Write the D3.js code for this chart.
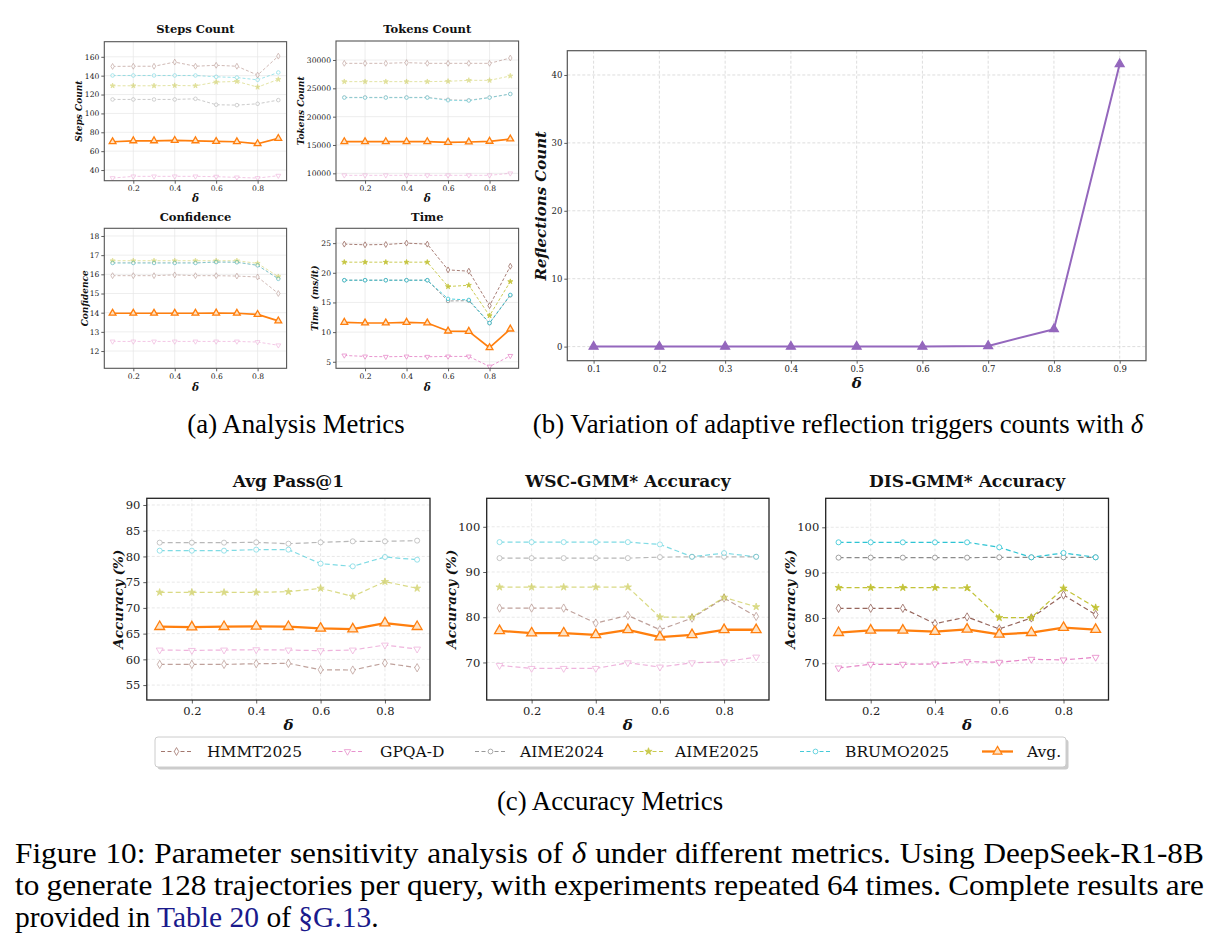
<!DOCTYPE html>
<html><head><meta charset="utf-8">
<script src="https://cdn.jsdelivr.net/npm/d3@7"></script>
<style>body{margin:0;background:#fff} svg{display:block}</style>
</head><body><svg id="c" width="1219" height="951"></svg>
<script>
// ---------------- data ----------------
const deltas = [0.1, 0.2, 0.3, 0.4, 0.5, 0.6, 0.7, 0.8, 0.9];
const seriesNames = ["HMMT2025", "GPQA-D", "AIME2024", "AIME2025", "BRUMO2025", "Avg."];
const seriesColors = ["#8c564b", "#e377c2", "#7f7f7f", "#bcbd22", "#17becf", "#ff7f0e"];

// order: HMMT2025, GPQA-D, AIME2024, AIME2025, BRUMO2025, Avg.
const stepsCount = [
  [149.8, 150, 150, 154.4, 150, 151, 150, 140.6, 160.7],
  [31.5, 33.3, 33.3, 33.3, 33.3, 33, 32.2, 31.5, 34],
  [114.8, 114.8, 114.8, 114.8, 115.5, 109.2, 108.8, 110.2, 114.1],
  [129.3, 129.3, 129.3, 129.6, 129.3, 133.2, 133.9, 127.9, 136],
  [140.2, 140.2, 140.2, 140.2, 140.2, 138.8, 138, 135.6, 143.4],
  [70, 71, 71, 71.4, 71, 70.3, 70, 67.9, 73.5]
];
const tokensCount = [
  [29410, 29410, 29410, 29530, 29410, 29410, 29410, 29410, 30350],
  [9650, 9650, 9650, 9650, 9650, 9650, 9650, 9650, 10000],
  [23400, 23400, 23400, 23400, 23400, 23000, 22900, 23400, 24000],
  [26180, 26180, 26180, 26180, 26180, 26240, 26410, 26410, 27180],
  [23350, 23350, 23350, 23350, 23350, 22880, 22820, 23350, 24000],
  [15590, 15590, 15590, 15590, 15590, 15470, 15530, 15650, 16060]
];
const confidence = [
  [15.93, 15.93, 15.93, 15.97, 15.93, 15.93, 15.91, 15.86, 15.0],
  [12.5, 12.5, 12.5, 12.5, 12.5, 12.5, 12.5, 12.47, 12.3],
  [16.6, 16.6, 16.6, 16.6, 16.6, 16.64, 16.63, 16.47, 15.78],
  [16.71, 16.71, 16.71, 16.71, 16.71, 16.71, 16.71, 16.57, 15.88],
  [16.59, 16.59, 16.59, 16.59, 16.59, 16.64, 16.63, 16.47, 15.76],
  [13.97, 13.97, 13.97, 13.97, 13.97, 13.98, 13.97, 13.91, 13.57]
];
const timeMs = [
  [24.83, 24.72, 24.77, 25.0, 24.83, 20.49, 20.27, 14.46, 21.1],
  [6.07, 5.9, 5.85, 5.9, 5.85, 5.9, 5.9, 4.2, 6.0],
  [18.75, 18.75, 18.75, 18.75, 18.75, 15.25, 15.3, 11.5, 16.2],
  [21.79, 21.79, 21.79, 21.79, 21.79, 17.68, 17.9, 12.77, 18.52],
  [18.75, 18.75, 18.75, 18.75, 18.75, 15.6, 15.42, 11.54, 16.27],
  [11.65, 11.54, 11.54, 11.65, 11.54, 10.18, 10.13, 7.37, 10.52]
];
const reflectionsCount = [0, 0, 0, 0, 0, 0, 0.1, 2.57, 41.6];
const avgPass1 = [
  [59.02, 59.02, 59.02, 59.15, 59.22, 57.98, 57.92, 59.28, 58.37],
  [61.81, 61.74, 61.81, 61.87, 61.81, 61.68, 61.81, 62.78, 62.0],
  [82.68, 82.68, 82.68, 82.74, 82.48, 82.74, 82.94, 82.94, 83.07],
  [73.02, 73.02, 73.02, 73.02, 73.15, 73.8, 72.24, 75.1, 73.8],
  [81.12, 81.12, 81.12, 81.32, 81.32, 78.6, 78.08, 79.89, 79.37],
  [66.35, 66.28, 66.35, 66.41, 66.35, 66.02, 65.89, 67.06, 66.35]
];
const wscAccuracy = [
  [82.02, 82.02, 82.02, 78.7, 80.4, 77.23, 79.81, 84.23, 80.18],
  [69.34, 68.68, 68.68, 68.68, 69.93, 68.98, 69.93, 70.15, 71.19],
  [93.07, 93.07, 93.07, 93.07, 93.07, 93.29, 93.37, 93.37, 93.37],
  [86.66, 86.66, 86.66, 86.66, 86.66, 80.03, 80.03, 84.38, 82.31],
  [96.61, 96.61, 96.61, 96.61, 96.61, 96.1, 93.37, 94.18, 93.37],
  [77.0, 76.49, 76.49, 76.12, 77.23, 75.61, 76.12, 77.23, 77.23]
];
const disAccuracy = [
  [82.13, 82.13, 82.13, 78.75, 80.22, 77.57, 80.0, 85.07, 80.74],
  [68.97, 69.78, 69.78, 69.85, 70.37, 70.22, 70.88, 70.74, 71.32],
  [93.31, 93.31, 93.31, 93.31, 93.31, 93.38, 93.38, 93.38, 93.38],
  [86.69, 86.69, 86.69, 86.69, 86.62, 80.07, 80.07, 86.54, 82.28],
  [96.69, 96.69, 96.69, 96.69, 96.69, 95.59, 93.38, 94.34, 93.38],
  [76.76, 77.28, 77.28, 76.99, 77.5, 76.4, 76.76, 77.87, 77.43]
];
const xTicksShort = [0.2, 0.4, 0.6, 0.8];
const xTicksAll = [0.1, 0.2, 0.3, 0.4, 0.5, 0.6, 0.7, 0.8, 0.9];
const stepsTicks = [40, 60, 80, 100, 120, 140, 160];
const tokensTicks = [10000, 15000, 20000, 25000, 30000];
const confTicks = [12, 13, 14, 15, 16, 17, 18];
const timeTicks = [5, 10, 15, 20, 25];
const reflTicks = [0, 10, 20, 30, 40];
const avgTicks = [55, 60, 65, 70, 75, 80, 85, 90];
const gmmTicks = [70, 80, 90, 100];

// ---------------- drawing ----------------
const svg = d3.select("#c");
const SERIF = "'DejaVu Serif', serif";
const TIMES = "'Liberation Serif', 'Times New Roman', serif";

function symPath(i, size) {
  const types = [d3.symbolDiamond, d3.symbolTriangle, d3.symbolCircle, d3.symbolStar, d3.symbolCircle, d3.symbolTriangle];
  return d3.symbol().type(types[i]).size(size)();
}
function markerTransform(i, cx, cy) {
  return i === 1 ? `translate(${cx},${cy}) rotate(180)` : `translate(${cx},${cy})`;
}

function drawPanel(p) {
  const g = svg.append("g");
  const x = d3.scaleLinear().domain([0.06, 0.94]).range([p.x0, p.x1]);
  const y = d3.scaleLinear().domain(p.yDomain).range([p.y1, p.y0]);
  // grid
  g.append("g").selectAll("line").data(p.xTicks).join("line")
    .attr("x1", d => x(d)).attr("x2", d => x(d)).attr("y1", p.y0).attr("y2", p.y1)
    .attr("stroke", p.gridColor).attr("stroke-width", 0.7).attr("stroke-dasharray", p.gridDash);
  g.append("g").selectAll("line").data(p.yTicks).join("line")
    .attr("x1", p.x0).attr("x2", p.x1).attr("y1", d => y(d)).attr("y2", d => y(d))
    .attr("stroke", p.gridColor).attr("stroke-width", 0.7).attr("stroke-dasharray", p.gridDash);
  // axes
  const ax = g.append("g").attr("transform", `translate(0,${p.y1})`)
    .call(d3.axisBottom(x).tickValues(p.xTicks).tickFormat(d3.format(".1f")).tickSize(p.tickLen).tickPadding(p.tickPad));
  const ay = g.append("g").attr("transform", `translate(${p.x0},0)`)
    .call(d3.axisLeft(y).tickValues(p.yTicks).tickFormat(d3.format("d")).tickSize(p.tickLen).tickPadding(p.tickPad));
  [ax, ay].forEach(a => {
    a.select(".domain").remove();
    a.selectAll("line").attr("stroke", "#333").attr("stroke-width", 0.8);
    a.selectAll("text").attr("font-family", SERIF).attr("font-size", p.tickFont).attr("fill", "#222");
  });
  // series
  const line = d3.line().x((d, i) => x(deltas[i])).y(d => y(d));
  p.series.forEach((vals, si) => {
    const isAvg = p.single ? true : si === 5;
    const color = p.single ? p.color : seriesColors[si];
    const alpha = isAvg ? 1 : p.alpha;
    const sg = g.append("g").attr("opacity", alpha);
    sg.append("path").datum(vals).attr("d", line).attr("fill", "none")
      .attr("stroke", color).attr("stroke-width", isAvg ? p.avgWidth : p.lineWidth)
      .attr("stroke-dasharray", isAvg ? null : p.dash).attr("stroke-linejoin", "round");
    const symIndex = p.single ? 5 : si;
    sg.selectAll("path.m").data(vals).join("path").attr("class", "m")
      .attr("d", symPath(symIndex, isAvg ? p.avgMarker : (symIndex === 3 ? p.marker * 0.8 : p.marker)))
      .attr("transform", (d, i) => markerTransform(symIndex, x(deltas[i]), y(d)))
      .attr("fill", p.single ? color : (isAvg ? "#ffe3c4" : (symIndex === 3 ? color : "#fff")))
      .attr("stroke", color).attr("stroke-width", isAvg ? 1.3 : 0.8);
  });
  // frame
  g.append("rect").attr("x", p.x0).attr("y", p.y0).attr("width", p.x1 - p.x0).attr("height", p.y1 - p.y0)
    .attr("fill", "none").attr("stroke", p.frameColor).attr("stroke-width", p.frameWidth);
  // title
  if (p.title) g.append("text").attr("x", (p.x0 + p.x1) / 2).attr("y", p.titleY)
    .attr("text-anchor", "middle").attr("font-family", SERIF).attr("font-weight", "bold")
    .attr("font-size", p.titleFont).attr("fill", "#111").text(p.title);
  // y label
  g.append("text").attr("transform", `translate(${p.ylabelX},${(p.y0 + p.y1) / 2}) rotate(-90)`)
    .attr("text-anchor", "middle").attr("dominant-baseline", "central")
    .attr("font-family", SERIF).attr("font-weight", "bold").attr("font-style", "italic")
    .attr("font-size", p.labelFont).attr("fill", "#111").style("white-space", "pre").text(p.ylabel);
  // x label
  g.append("text").attr("x", (p.x0 + p.x1) / 2).attr("y", p.xlabelY)
    .attr("text-anchor", "middle").attr("dominant-baseline", "central")
    .attr("font-family", SERIF).attr("font-weight", "bold").attr("font-style", "italic")
    .attr("font-size", p.deltaFont).attr("fill", "#111").text("δ");
}

const smallBase = {
  xTicks: xTicksShort, tickLen: 3, tickPad: 2, tickFont: 7.6, titleFont: 11.5, labelFont: 9, deltaFont: 10.5,
  gridColor: "#e6e6e6", gridDash: null, lineWidth: 0.9, avgWidth: 1.7, dash: "3,2",
  marker: 10, avgMarker: 20, frameColor: "#555", frameWidth: 1.1
};
drawPanel(Object.assign({}, smallBase, {
  x0: 104.3, x1: 286.6, y0: 41.7, y1: 180.7, yDomain: [28.7, 176], yTicks: stepsTicks,
  series: stepsCount, alpha: 0.45, title: "Steps Count", titleY: 33, ylabel: "Steps Count", ylabelX: 79, xlabelY: 198
}));
drawPanel(Object.assign({}, smallBase, {
  x0: 336, x1: 518.6, y0: 41, y1: 180.7, yDomain: [8700, 33350], yTicks: tokensTicks,
  series: tokensCount, alpha: 0.45, title: "Tokens Count", titleY: 33, ylabel: "Tokens Count", ylabelX: 301, xlabelY: 198
}));
drawPanel(Object.assign({}, smallBase, {
  x0: 104.3, x1: 286.6, y0: 228.3, y1: 368.3, yDomain: [11.1, 18.4], yTicks: confTicks,
  series: confidence, alpha: 0.45, title: "Confidence", titleY: 220.5, ylabel: "Confidence", ylabelX: 85, xlabelY: 386.5
}));
drawPanel(Object.assign({}, smallBase, {
  x0: 336, x1: 518.6, y0: 228.3, y1: 368.3, yDomain: [3.9, 27.5], yTicks: timeTicks,
  series: timeMs, alpha: 0.85, title: "Time", titleY: 220.5, ylabel: "Time  (ms/it)", ylabelX: 315, xlabelY: 386.5
}));
// reflections
drawPanel({
  x0: 567.3, x1: 1146, y0: 50.7, y1: 360.7, yDomain: [-2.075, 43.575], yTicks: reflTicks, xTicks: xTicksAll,
  tickLen: 3, tickPad: 2, tickFont: 8.5, labelFont: 15, deltaFont: 15,
  gridColor: "#cfcfcf", gridDash: "3,2", lineWidth: 2, avgWidth: 2, dash: null,
  marker: 30, avgMarker: 34, frameColor: "#555", frameWidth: 1.2,
  series: [reflectionsCount], single: true, color: "#9467bd", alpha: 1,
  title: null, ylabel: "Reflections Count", ylabelX: 541, xlabelY: 383
});
const bigBase = {
  xTicks: xTicksShort, tickLen: 3.5, tickPad: 3, tickFont: 11.5, titleFont: 17, labelFont: 13.5, deltaFont: 15,
  gridColor: "#dedede", gridDash: "3,2", lineWidth: 1.2, avgWidth: 2.3, dash: "5,3",
  marker: 20, avgMarker: 42, frameColor: "#222", frameWidth: 1.3, titleY: 487
};
drawPanel(Object.assign({}, bigBase, {
  x0: 146.8, x1: 430, y0: 498.3, y1: 700, yDomain: [52.1, 91.3], yTicks: avgTicks,
  series: avgPass1, alpha: 0.55, title: "Avg Pass@1", ylabel: "Accuracy (%)", ylabelX: 118, xlabelY: 725
}));
drawPanel(Object.assign({}, bigBase, {
  x0: 486.7, x1: 769, y0: 498.3, y1: 700, yDomain: [61.7, 106.3], yTicks: gmmTicks,
  series: wscAccuracy, alpha: 0.55, title: "WSC-GMM* Accuracy", ylabel: "Accuracy (%)", ylabelX: 451, xlabelY: 725
}));
drawPanel(Object.assign({}, bigBase, {
  x0: 825.7, x1: 1108.5, y0: 498.3, y1: 700, yDomain: [61.9, 106.4], yTicks: gmmTicks,
  series: disAccuracy, alpha: 0.9, title: "DIS-GMM* Accuracy", ylabel: "Accuracy (%)", ylabelX: 790, xlabelY: 725
}));

// legend
(function legend() {
  const g = svg.append("g");
  const lx0 = 155, lx1 = 1066, ly0 = 737, ly1 = 767;
  g.append("rect").attr("x", lx0 + 2.5).attr("y", ly0 + 2.5).attr("width", lx1 - lx0).attr("height", ly1 - ly0)
    .attr("rx", 3).attr("fill", "#999").attr("opacity", 0.5);
  g.append("rect").attr("x", lx0).attr("y", ly0).attr("width", lx1 - lx0).attr("height", ly1 - ly0)
    .attr("rx", 3).attr("fill", "#fff").attr("stroke", "#cccccc").attr("stroke-width", 1);
  const handleX = [161, 332, 475, 633, 800, 982];
  const textX = [207, 380, 520, 675, 845, 1027];
  const cy = 751.5;
  seriesNames.forEach((name, i) => {
    const isAvg = i === 5;
    const hg = g.append("g").attr("opacity", isAvg ? 1 : 0.8);
    hg.append("line").attr("x1", handleX[i]).attr("x2", handleX[i] + 31).attr("y1", cy).attr("y2", cy)
      .attr("stroke", seriesColors[i]).attr("stroke-width", isAvg ? 2.3 : 1.2).attr("stroke-dasharray", isAvg ? null : "4,2.5");
    hg.append("path").attr("d", symPath(i, isAvg ? 34 : (i === 3 ? 16 : 18)))
      .attr("transform", markerTransform(i, handleX[i] + 15.5, cy))
      .attr("fill", isAvg ? "#ffe3c4" : (i === 3 ? seriesColors[i] : "#fff"))
      .attr("stroke", seriesColors[i]).attr("stroke-width", isAvg ? 1.2 : 0.8);
    g.append("text").attr("x", textX[i]).attr("y", cy).attr("dominant-baseline", "central")
      .attr("font-family", SERIF).attr("font-size", 15.5).attr("fill", "#111").text(name);
  });
})();

// sub captions
function capText(xc, yb, parts, size) {
  const t = svg.append("text").attr("x", xc).attr("y", yb).attr("text-anchor", "middle")
    .attr("font-family", TIMES).attr("font-size", size).attr("fill", "#000");
  parts.forEach(pp => t.append("tspan").attr("font-style", pp.it ? "italic" : null).attr("fill", pp.c || null).text(pp.t));
  return t;
}
capText(296, 433, [{ t: "(a) Analysis Metrics" }], 26.8);
capText(838, 433, [{ t: "(b) Variation of adaptive reflection triggers counts with " }, { t: "δ", it: true }], 26.8);
capText(610, 810, [{ t: "(c) Accuracy Metrics" }], 26.8);

// figure caption (justified lines)
const captionLines = [
  [["Figure"], ["10:"], ["Parameter"], ["sensitivity"], ["analysis"], ["of"], ["δ", "it"], ["under"], ["different"], ["metrics."], ["Using"], ["DeepSeek-R1-8B"]],
  [["to"], ["generate"], ["128"], ["trajectories"], ["per"], ["query,"], ["with"], ["experiments"], ["repeated"], ["64"], ["times."], ["Complete"], ["results"], ["are"]]
];
const capSize = 29.5;
const capStretch = 1.06;
const capLeft = 15, capRight = 1204;
const capBase = [863, 895, 927];
captionLines.forEach((words, li) => {
  const els = words.map(w => svg.append("text").attr("font-family", TIMES)
    .attr("font-size", capSize).attr("fill", "#000").attr("font-style", w[1] === "it" ? "italic" : null).text(w[0]));
  const widths = els.map(e => e.node().getComputedTextLength() * capStretch);
  const total = d3.sum(widths);
  const gap = (capRight - capLeft - total) / (els.length - 1);
  let xpos = capLeft;
  els.forEach((e, i) => {
    e.attr("transform", `translate(${xpos},${capBase[li]}) scale(${capStretch},1)`);
    xpos += widths[i] + gap;
  });
});
const l3 = svg.append("text").attr("x", capLeft).attr("y", capBase[2]).attr("font-family", TIMES)
  .attr("font-size", capSize).attr("fill", "#000").style("white-space", "pre");
l3.append("tspan").text("provided in ");
l3.append("tspan").attr("fill", "#1a1a8c").text("Table 20");
l3.append("tspan").text(" of ");
l3.append("tspan").attr("fill", "#1a1a8c").text("§G.13");
l3.append("tspan").text(".");
</script>
</body></html>
